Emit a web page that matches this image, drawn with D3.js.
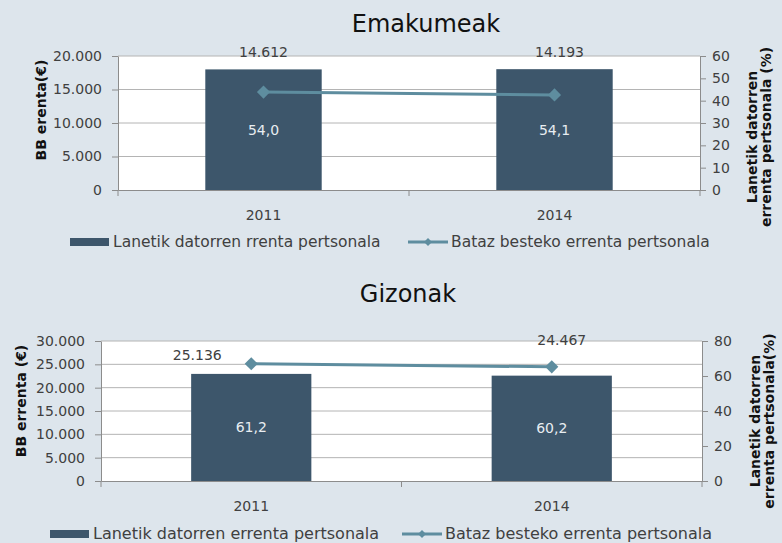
<!DOCTYPE html>
<html>
<head>
<meta charset="utf-8">
<script src="https://cdn.jsdelivr.net/npm/d3@7"></script>
<style>
    html, body { margin: 0; padding: 0; background: #dde5ec; }
    svg { display: block; font-family: "DejaVu Sans", sans-serif; }
</style>
</head>
<body>
<svg id="chart" width="782" height="543"></svg>
<script>
// ===== DATA =====
const years = ['2011', '2014'];

// Emakumeak
const womenShare  = [54.0, 54.1];       // bars, right axis (%)
const womenIncome = [14612, 14193];     // line, left axis (€)
const womenLeftTicks  = [0, 5000, 10000, 15000, 20000];
const womenRightTicks = [0, 10, 20, 30, 40, 50, 60];

// Gizonak
const menShare  = [61.2, 60.2];
const menIncome = [25136, 24467];
const menLeftTicks  = [0, 5000, 10000, 15000, 20000, 25000, 30000];
const menRightTicks = [0, 20, 40, 60, 80];

// ===== SETUP =====
const BAR   = '#3d566b';
const LINE  = '#5e8d9f';
const GRID  = '#b4b4b4';
const AXIS  = '#8c8c8c';
const TEXT  = '#404040';

const loc = d3.formatLocale({ decimal: ',', thousands: '.', grouping: [3], currency: ['', '€'] });
const fmtInt = loc.format(',.0f');
const fmtPct = loc.format('.1f');

const svg = d3.select('#chart');

function drawPanel(p) {
    const g = svg.append('g');

    const x = d3.scaleBand().domain(years).range([p.left, p.right]);
    const yL = d3.scaleLinear().domain([0, d3.max(p.leftTicks)]).range([p.bottom, p.top]);
    const yR = d3.scaleLinear().domain([0, d3.max(p.rightTicks)]).range([p.bottom, p.top]);
    const cx = i => x(years[i]) + x.bandwidth() / 2;

    // Title
    g.append('text')
        .attr('x', p.titleX).attr('y', p.titleY)
        .attr('text-anchor', 'middle')
        .attr('font-size', 24)
        .attr('fill', '#111')
        .text(p.title);

    // Plot area
    g.append('rect')
        .attr('x', p.left).attr('y', p.top)
        .attr('width', p.right - p.left).attr('height', p.bottom - p.top)
        .attr('fill', '#fff');

    // Gridlines (left axis)
    g.selectAll('.grid')
        .data(p.leftTicks.filter(d => d > 0))
        .enter().append('line')
        .attr('x1', p.left).attr('x2', p.right)
        .attr('y1', d => yL(d)).attr('y2', d => yL(d))
        .attr('stroke', GRID).attr('stroke-width', 1);

    // Bars
    g.selectAll('.bar')
        .data(p.share)
        .enter().append('rect')
        .attr('x', (d, i) => x(years[i]) + x.bandwidth() * 0.3)
        .attr('width', x.bandwidth() * 0.4)
        .attr('y', d => yR(d))
        .attr('height', d => p.bottom - yR(d))
        .attr('fill', BAR);

    // Bar labels
    g.selectAll('.bar-label')
        .data(p.share)
        .enter().append('text')
        .attr('x', (d, i) => cx(i))
        .attr('y', d => (yR(d) + p.bottom) / 2 + 5)
        .attr('text-anchor', 'middle')
        .attr('font-size', 14)
        .attr('fill', '#e8edf1')
        .text(d => fmtPct(d));

    // Left axis
    const axL = g.append('g')
        .attr('transform', `translate(${p.left},0)`)
        .call(d3.axisLeft(yL).tickValues(p.leftTicks).tickFormat(d => fmtInt(d)).tickSize(6).tickPadding(10).tickSizeOuter(0));
    // Right axis
    const axR = g.append('g')
        .attr('transform', `translate(${p.right},0)`)
        .call(d3.axisRight(yR).tickValues(p.rightTicks).tickSize(6).tickPadding(6).tickSizeOuter(0));
    // Bottom axis, ticks on category boundaries
    const axB = g.append('g')
        .attr('transform', `translate(0,${p.bottom})`)
        .call(d3.axisBottom(x).tickSize(0).tickPadding(20).tickSizeOuter(0));
    axB.selectAll('.sep')
        .data([p.left, x(years[1]), p.right])
        .enter().append('line')
        .attr('x1', d => d).attr('x2', d => d)
        .attr('y1', 0).attr('y2', 6)
        .attr('stroke', AXIS);

    [axL, axR, axB].forEach(a => {
        a.selectAll('.domain').attr('stroke', AXIS);
        a.selectAll('.tick line').attr('stroke', AXIS);
        a.selectAll('text').attr('fill', TEXT).attr('font-size', 14)
            .attr('font-family', '"DejaVu Sans", sans-serif');
    });

    // Line + diamond markers
    const line = d3.line()
        .x((d, i) => cx(i))
        .y(d => yL(d));
    g.append('path')
        .datum(p.income)
        .attr('d', line)
        .attr('fill', 'none')
        .attr('stroke', LINE)
        .attr('stroke-width', 3);

    g.selectAll('.pt')
        .data(p.income)
        .enter().append('path')
        .attr('d', d3.symbol(d3.symbolDiamond2, 110))
        .attr('transform', (d, i) => `translate(${cx(i)},${yL(d)})`)
        .attr('fill', LINE);

    // Line labels
    g.selectAll('.pt-label')
        .data(p.income)
        .enter().append('text')
        .attr('x', (d, i) => cx(i) + p.labelDx[i])
        .attr('y', (d, i) => yL(d) + p.labelDy[i])
        .attr('text-anchor', 'middle')
        .attr('font-size', 14)
        .attr('fill', TEXT)
        .text(d => fmtInt(d));

    // Axis titles
    g.append('text')
        .attr('transform', `translate(${p.leftTitleX},${p.leftTitleY}) rotate(-90)`)
        .attr('text-anchor', 'middle')
        .attr('font-size', 14).attr('font-weight', 'bold')
        .attr('fill', '#111')
        .text(p.leftTitle);

    g.selectAll('.rt')
        .data(p.rightTitle)
        .enter().append('text')
        .attr('transform', (d, i) => `translate(${p.rightTitleX + i * 14},${p.rightTitleY}) rotate(-90)`)
        .attr('text-anchor', 'middle')
        .attr('font-size', 14).attr('font-weight', 'bold')
        .attr('fill', '#111')
        .text(d => d);

    // Legend
    const lg = g.append('g').attr('transform', `translate(0,${p.legendY})`);
    lg.append('rect')
        .attr('x', p.legendBarX).attr('y', -4)
        .attr('width', 39).attr('height', 8)
        .attr('fill', BAR);
    lg.append('text')
        .attr('x', p.legendBarX + 43).attr('y', 5)
        .attr('font-size', p.legendFont).attr('fill', TEXT)
        .text(p.barLegend);
    lg.append('line')
        .attr('x1', p.legendLineX).attr('x2', p.legendLineX + 40)
        .attr('stroke', LINE).attr('stroke-width', 3);
    lg.append('path')
        .attr('d', d3.symbol(d3.symbolDiamond2, 40))
        .attr('transform', `translate(${p.legendLineX + 20},0)`)
        .attr('fill', LINE);
    lg.append('text')
        .attr('x', p.legendLineX + 43).attr('y', 5)
        .attr('font-size', p.legendFont).attr('fill', TEXT)
        .text('Bataz besteko errenta pertsonala');
}

drawPanel({
    title: 'Emakumeak', titleX: 426, titleY: 32,
    left: 118, right: 700, top: 56, bottom: 190,
    share: womenShare, income: womenIncome,
    leftTicks: womenLeftTicks, rightTicks: womenRightTicks,
    labelDx: [0, 5], labelDy: [-35, -38],
    leftTitle: 'BB erenta(€)', leftTitleX: 46, leftTitleY: 110,
    rightTitle: ['Lanetik datorren', 'errenta pertsonala (%)'], rightTitleX: 757, rightTitleY: 137,
    legendY: 242, legendBarX: 70, legendLineX: 408, legendFont: 15.5,
    barLegend: 'Lanetik datorren rrenta pertsonala'
});

drawPanel({
    title: 'Gizonak', titleX: 408, titleY: 302,
    left: 101, right: 702, top: 341, bottom: 481,
    share: menShare, income: menIncome,
    leftTicks: menLeftTicks, rightTicks: menRightTicks,
    labelDx: [-54, 10], labelDy: [-4, -22],
    leftTitle: 'BB errenta (€)', leftTitleX: 26, leftTitleY: 401,
    rightTitle: ['Lanetik datorren', 'errenta pertsonala(%)'], rightTitleX: 760, rightTitleY: 421,
    legendY: 534, legendBarX: 50, legendLineX: 402, legendFont: 16,
    barLegend: 'Lanetik datorren errenta pertsonala'
});
</script>
</body>
</html>
